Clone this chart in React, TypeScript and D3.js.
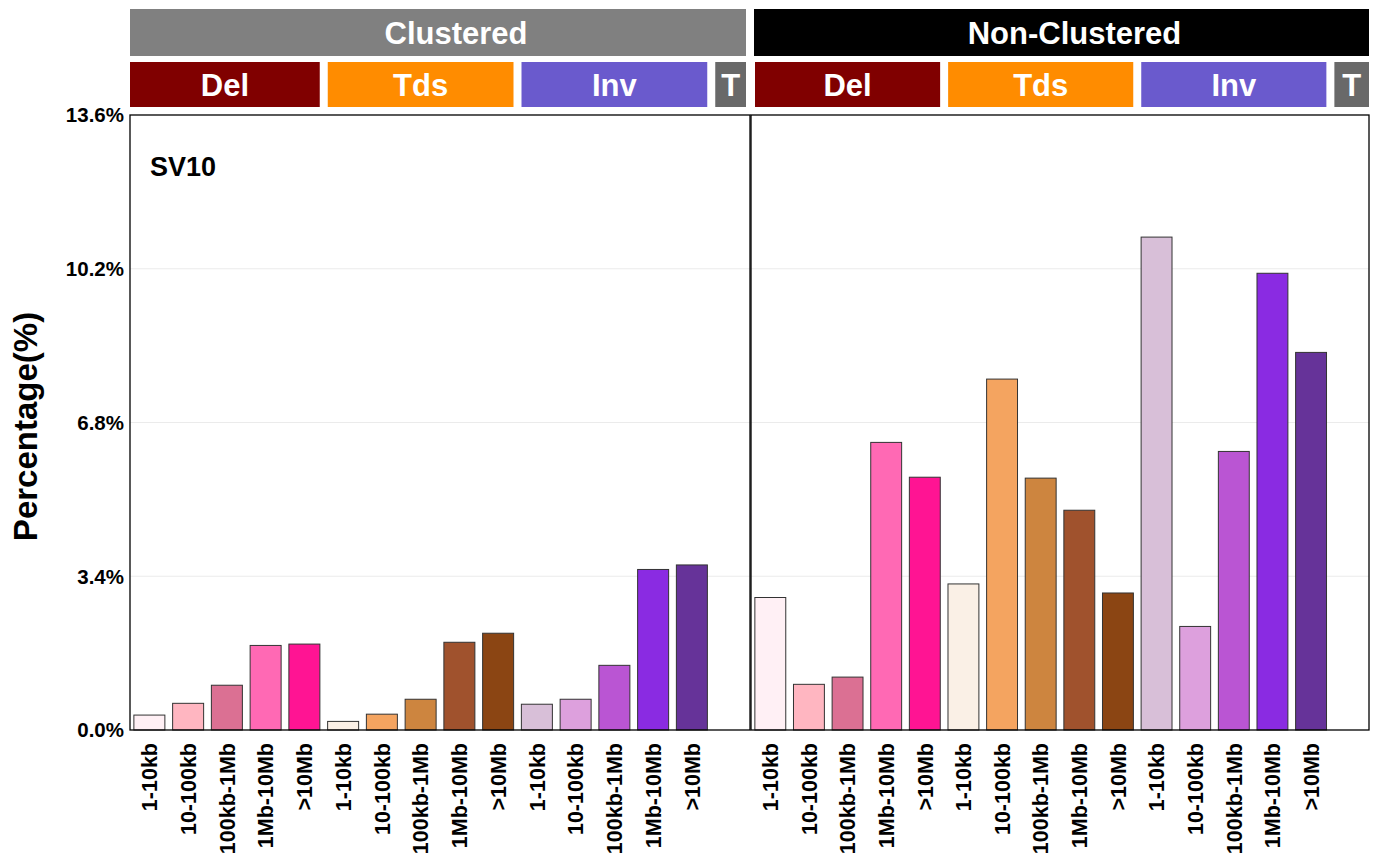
import React from 'react';
import * as d3 from 'd3';

// size bins shown on the x axis (same for each SV type)
const sizeBins = ['1-10kb', '10-100kb', '100kb-1Mb', '1Mb-10Mb', '>10Mb'];
const svTypes = ['Del', 'Tds', 'Inv', 'T'];
const clusterGroups = ['Clustered', 'Non-Clustered'];
const yTicks = [0, 3.4, 6.8, 10.2, 13.6];
const signatureName = 'SV10';

// percentages
const clusteredDel = [0.33, 0.59, 0.99, 1.87, 1.9];
const clusteredTds = [0.19, 0.35, 0.68, 1.94, 2.14];
const clusteredInv = [0.57, 0.68, 1.43, 3.55, 3.65];
const nonClusteredDel = [2.93, 1.01, 1.17, 6.36, 5.59];
const nonClusteredTds = [3.23, 7.76, 5.57, 4.86, 3.03];
const nonClusteredInv = [10.9, 2.29, 6.16, 10.1, 8.35];

const delColors = ['#FFF0F5', '#FFB6C1', '#DB7093', '#FF69B4', '#FF1493'];
const tdsColors = ['#FAF0E6', '#F4A460', '#CD853F', '#A0522D', '#8B4513'];
const invColors = ['#D8BFD8', '#DDA0DD', '#BA55D3', '#8A2BE2', '#663399'];
const typeStripColors = ['#800000', '#FF8C00', '#6A5ACD', '#696969'];
const groupStripColors = ['#808080', '#000000'];

const FONT = '"Liberation Sans", Arial, Helvetica, sans-serif';

const W = 1380;
const H = 865;
const panelTop = 115;
const panelBottom = 730;
const panels = [
  { x0: 130, x1: 750 },
  { x0: 751, x1: 1369 },
];
// the group labels sit a little right of their strip centre
const groupLabelShift = [18, 13];

const seriesByGroup = [
  [clusteredDel, clusteredTds, clusteredInv, []],
  [nonClusteredDel, nonClusteredTds, nonClusteredInv, []],
];
const colorsByType = [delColors, tdsColors, invColors, []];

// band keys: 5 per type plus one empty slot for T
const bandKeys: string[] = [];
svTypes.forEach((t) => {
  if (t === 'T') bandKeys.push('T|');
  else sizeBins.forEach((s) => bandKeys.push(t + '|' + s));
});

const App = () => {
  const y = d3.scaleLinear().domain([0, 13.6]).range([panelBottom, panelTop]);

  return (
    <svg width={W} height={H} style={{ position: 'absolute', left: 0, top: 0, background: '#fff' }}>
      {/* y axis title */}
      <text
        transform={`translate(37,${(panelTop + panelBottom) / 2 + 4}) rotate(-90)`}
        textAnchor="middle"
        fontFamily={FONT}
        fontWeight="bold"
        fontSize={33}
      >
        Percentage(%)
      </text>

      {/* y tick labels */}
      {yTicks.map((t) => (
        <text
          key={t}
          x={124}
          y={y(t)}
          dy="0.36em"
          textAnchor="end"
          fontFamily={FONT}
          fontWeight="bold"
          fontSize={20.5}
        >
          {t.toFixed(1) + '%'}
        </text>
      ))}

      {clusterGroups.map((g, gi) => {
        const p = panels[gi];
        const x = d3.scaleBand().domain(bandKeys).range([p.x0, p.x1]).paddingInner(0.2).paddingOuter(0.1);
        const step = x.step();
        const isFirst = gi === 0;
        const isLast = gi === clusterGroups.length - 1;

        let idx = 0;
        const typeStrips = svTypes.map((t, ti) => {
          const n = t === 'T' ? 1 : sizeBins.length;
          const s0 = p.x0 + idx * step;
          const s1 = s0 + n * step;
          idx += n;
          const left = isFirst && ti === 0 ? s0 : s0 + 4;
          const right = isLast && ti === svTypes.length - 1 ? s1 : s1 - 4;
          return { t, ti, left, right };
        });

        const gLeft = isFirst ? p.x0 : p.x0 + 3;
        const gRight = isLast ? p.x1 : p.x1 - 4;

        return (
          <g key={g}>
            {/* group strip */}
            <rect x={gLeft} y={9} width={gRight - gLeft} height={47} fill={groupStripColors[gi]} />
            <text
              x={(gLeft + gRight) / 2 + groupLabelShift[gi]}
              y={33}
              dy="0.36em"
              textAnchor="middle"
              fill="#fff"
              fontFamily={FONT}
              fontWeight="bold"
              fontSize={31}
            >
              {g}
            </text>

            {/* type strips */}
            {typeStrips.map((s) => (
              <g key={s.t}>
                <rect x={s.left} y={62} width={s.right - s.left} height={45} fill={typeStripColors[s.ti]} />
                <text
                  x={(s.left + s.right) / 2}
                  y={85}
                  dy="0.36em"
                  textAnchor="middle"
                  fill="#fff"
                  fontFamily={FONT}
                  fontWeight="bold"
                  fontSize={31}
                >
                  {s.t}
                </text>
              </g>
            ))}

            {/* grid */}
            {yTicks
              .filter((t) => t > 0 && t < 13.6)
              .map((t) => (
                <line key={t} x1={p.x0} x2={p.x1} y1={y(t)} y2={y(t)} stroke="#EBEBEB" strokeWidth={1.2} />
              ))}

            {/* bars */}
            {svTypes.map((t, ti) =>
              (seriesByGroup[gi][ti] as number[]).map((v, si) => {
                const bx = x(t + '|' + sizeBins[si]) as number;
                return (
                  <rect
                    key={t + si}
                    x={bx}
                    y={y(v)}
                    width={x.bandwidth()}
                    height={y(0) - y(v)}
                    fill={colorsByType[ti][si]}
                    stroke="#333333"
                    strokeWidth={1}
                  />
                );
              })
            )}

            {/* panel border */}
            <rect
              x={p.x0}
              y={panelTop}
              width={p.x1 - p.x0}
              height={panelBottom - panelTop}
              fill="none"
              stroke="#000"
              strokeWidth={1.3}
            />

            {/* x tick labels */}
            {svTypes
              .filter((t) => t !== 'T')
              .map((t) =>
                sizeBins.map((s) => {
                  const cx = (x(t + '|' + s) as number) + x.bandwidth() / 2;
                  return (
                    <text
                      key={t + s}
                      transform={`translate(${cx},743) rotate(-90)`}
                      dy="0.36em"
                      textAnchor="end"
                      fontFamily={FONT}
                      fontWeight="bold"
                      fontSize={21.5}
                    >
                      {s}
                    </text>
                  );
                })
              )}
          </g>
        );
      })}

      {/* signature label */}
      <text x={150} y={176} fontFamily={FONT} fontWeight="bold" fontSize={27}>
        {signatureName}
      </text>
    </svg>
  );
};

export default App;
